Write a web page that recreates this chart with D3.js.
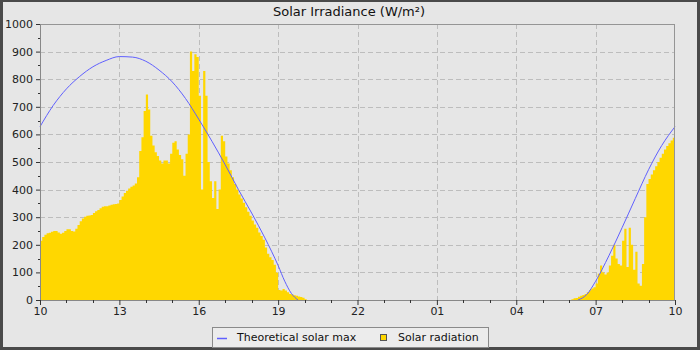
<!DOCTYPE html>
<html><head><meta charset="utf-8">
<script src="https://cdn.jsdelivr.net/npm/d3@7/dist/d3.min.js"></script>
<style>body{margin:0;background:#e6e6e6}svg{display:block;font-family:"DejaVu Sans",sans-serif}</style>
</head><body><svg id="c" width="700" height="350"></svg>
<script>
const titleText = "Solar Irradiance (W/m²)";
const seriesNames = ["Theoretical solar max", "Solar radiation"];
const yTicks = [0,100,200,300,400,500,600,700,800,900,1000];
const xTickLabels = ["10","13","16","19","22","01","04","07","10"];
const stepMinutes = 5;
// Solar radiation, 5-minute steps starting 10:00 (day 1)
const afternoonStart = "2024-06-01T10:00";
const afternoonRadiation = [
 215,228,236,242,244,247,250,250,245,240,244,250,
 256,256,250,248,258,272,285,295,302,305,306,308,
 315,322,326,332,338,340,340,342,345,347,348,350,
 362,375,388,396,404,410,415,422,445,540,590,685,
 745,690,595,560,535,522,505,495,505,505,495,530,
 570,575,545,525,510,450,530,600,900,830,890,880,
 740,400,830,740,500,430,370,430,330,400,595,575,
 520,495,470,445,420,400,382,368,352,336,320,305,
 288,274,262,245,232,218,190,168,155,145,128,100,
 36,34,40,34,28,22,20,17,15,13,11,8,
 3
];
// Solar radiation, 5-minute steps starting 06:00 (day 2)
const morningStart = "2024-06-02T06:00";
const morningRadiation = [
 0,3,6,7,12,15,18,22,28,35,42,46,
 60,95,125,100,92,100,125,160,200,150,130,125,
 215,258,120,262,200,110,175,60,52,130,300,420,
 438,455,470,485,500,515,530,545,558,568,578,588
];
// Theoretical solar max
const theoAfternoonTimes = ["10:00","10:30","11:00","11:30","12:00","12:30","13:00","13:30","14:00","14:30","15:00","15:30","16:00","16:30","17:00","17:30","18:00","18:30","19:00","19:15","19:30","19:45"];
const theoAfternoon = [628,705,765,810,845,868,882,880,865,833,790,730,655,575,490,400,315,225,125,68,24,0];
const theoMorningTimes = ["06:20","06:40","07:00","07:30","08:00","08:30","09:00","09:30","10:00"];
const theoMorning = [0,20,68,160,262,368,472,560,628];

const W = 700, H = 350;
const m = {l:40, r:25, t:24, b:50};
const svg = d3.select("#c");
svg.append("rect").attr("width",W).attr("height",H).attr("fill","#4a4a4a");
svg.append("rect").attr("x",3).attr("y",2).attr("width",W-6).attr("height",H-5).attr("fill","#e6e6e6");

const parse = d3.timeParse("%Y-%m-%dT%H:%M");
const t0 = parse("2024-06-01T10:00"), t1 = parse("2024-06-02T10:00");
const x = d3.scaleTime().domain([t0,t1]).range([m.l, W-m.r]);
const y = d3.scaleLinear().domain([0,1000]).range([H-m.b, m.t]);

const majorAll = xTickLabels.map((s,i)=>d3.timeHour.offset(t0, 3*i));
const labelOf = new Map(majorAll.map((d,i)=>[+d, xTickLabels[i]]));
const minorAll = d3.range(25).map(i=>d3.timeHour.offset(t0,i)).filter((d,i)=>i%3!==0);

// grid
const g = svg.append("g");
g.selectAll(".hg").data(yTicks.slice(1)).join("line")
 .attr("x1",m.l).attr("x2",W-m.r).attr("y1",d=>Math.round(y(d))+0.5).attr("y2",d=>Math.round(y(d))+0.5)
 .attr("stroke","#bdbdbd").attr("stroke-dasharray","5,3");
g.selectAll(".vg").data(majorAll.slice(1,-1)).join("line")
 .attr("x1",d=>Math.round(x(d))+0.5).attr("x2",d=>Math.round(x(d))+0.5).attr("y1",m.t).attr("y2",H-m.b)
 .attr("stroke","#bdbdbd").attr("stroke-dasharray","5,3");

// bars as stepped area (no seams)
function steps(startStr, arr){
  const s = parse(startStr);
  const pts = arr.map((v,i)=>({t:d3.timeMinute.offset(s,i*stepMinutes), v}));
  pts.push({t:d3.timeMinute.offset(s,arr.length*stepMinutes), v:0});
  return pts;
}
svg.append("clipPath").attr("id","pc").append("rect").attr("x",m.l).attr("y",m.t).attr("width",W-m.l-m.r).attr("height",H-m.t-m.b);
const area = d3.area().x(d=>x(d.t)).y0(y(0)).y1(d=>y(d.v)).curve(d3.curveStepAfter);
const bg = svg.append("g").attr("clip-path","url(#pc)");
[steps(afternoonStart, afternoonRadiation), steps(morningStart, morningRadiation)].forEach(p=>
  bg.append("path").attr("d",area(p)).attr("fill","#ffd700"));

// theoretical line
const line = d3.line().x(d=>x(d.t)).y(d=>y(d.v)).curve(d3.curveMonotoneX);
const aft = theoAfternoonTimes.map((s,i)=>({t:parse("2024-06-01T"+s), v:theoAfternoon[i]}));
const mor = theoMorningTimes.map((s,i)=>({t:parse("2024-06-02T"+s), v:theoMorning[i]}));
[aft,mor].forEach(d=>svg.append("path").attr("d",line(d)).attr("fill","none").attr("stroke","#6060ff").attr("stroke-width",1));

// frame
svg.append("rect").attr("x",m.l+0.5).attr("y",m.t+0.5).attr("width",W-m.l-m.r-1).attr("height",H-m.t-m.b)
 .attr("fill","none").attr("stroke","#959595");

// y axis
const ya = svg.append("g").attr("transform",`translate(${m.l},0)`)
 .call(d3.axisLeft(y).tickValues(yTicks).tickSize(4).tickPadding(3).tickFormat(d3.format("d")));
ya.select(".domain").attr("stroke","#888");
ya.selectAll(".tick line").attr("stroke","#333");
ya.selectAll("text").attr("font-size",11).attr("fill","#222").attr("font-family","DejaVu Sans");
const yMinor = d3.range(50,1000,100);
svg.append("g").selectAll("line").data(yMinor).join("line")
 .attr("x1",m.l-2).attr("x2",m.l).attr("y1",d=>Math.round(y(d))+0.5).attr("y2",d=>Math.round(y(d))+0.5).attr("stroke","#333");

// x axis
const xa = svg.append("g").attr("transform",`translate(0,${H-m.b})`)
 .call(d3.axisBottom(x).tickValues(majorAll).tickSize(5).tickPadding(2).tickFormat(d=>labelOf.get(+d)));
xa.select(".domain").attr("stroke","#888");
xa.selectAll(".tick line").attr("stroke","#333");
xa.selectAll("text").attr("font-size",11).attr("fill","#222").attr("font-family","DejaVu Sans");
svg.append("g").selectAll("line").data(minorAll).join("line")
 .attr("x1",d=>Math.round(x(d))+0.5).attr("x2",d=>Math.round(x(d))+0.5).attr("y1",H-m.b).attr("y2",H-m.b+3).attr("stroke","#333");

// title
svg.append("text").attr("x",349).attr("y",16).attr("text-anchor","middle").attr("font-size",13).attr("fill","#111").text(titleText);

// legend
const lg = svg.append("g");
lg.append("rect").attr("x",212.5).attr("y",327.5).attr("width",276).attr("height",20).attr("fill","#ececec").attr("stroke","#8a8a8a");
lg.append("line").attr("x1",217).attr("x2",227).attr("y1",338.5).attr("y2",338.5).attr("stroke","#6060ff").attr("stroke-width",1.5);
lg.append("text").attr("x",237).attr("y",341).attr("font-size",11).attr("fill","#111").text(seriesNames[0]);
lg.append("rect").attr("x",380.5).attr("y",334.5).attr("width",6).attr("height",6).attr("fill","#ffd700").attr("stroke","#555");
lg.append("text").attr("x",398).attr("y",341).attr("font-size",11).attr("fill","#111").text(seriesNames[1]);
</script></body></html>
